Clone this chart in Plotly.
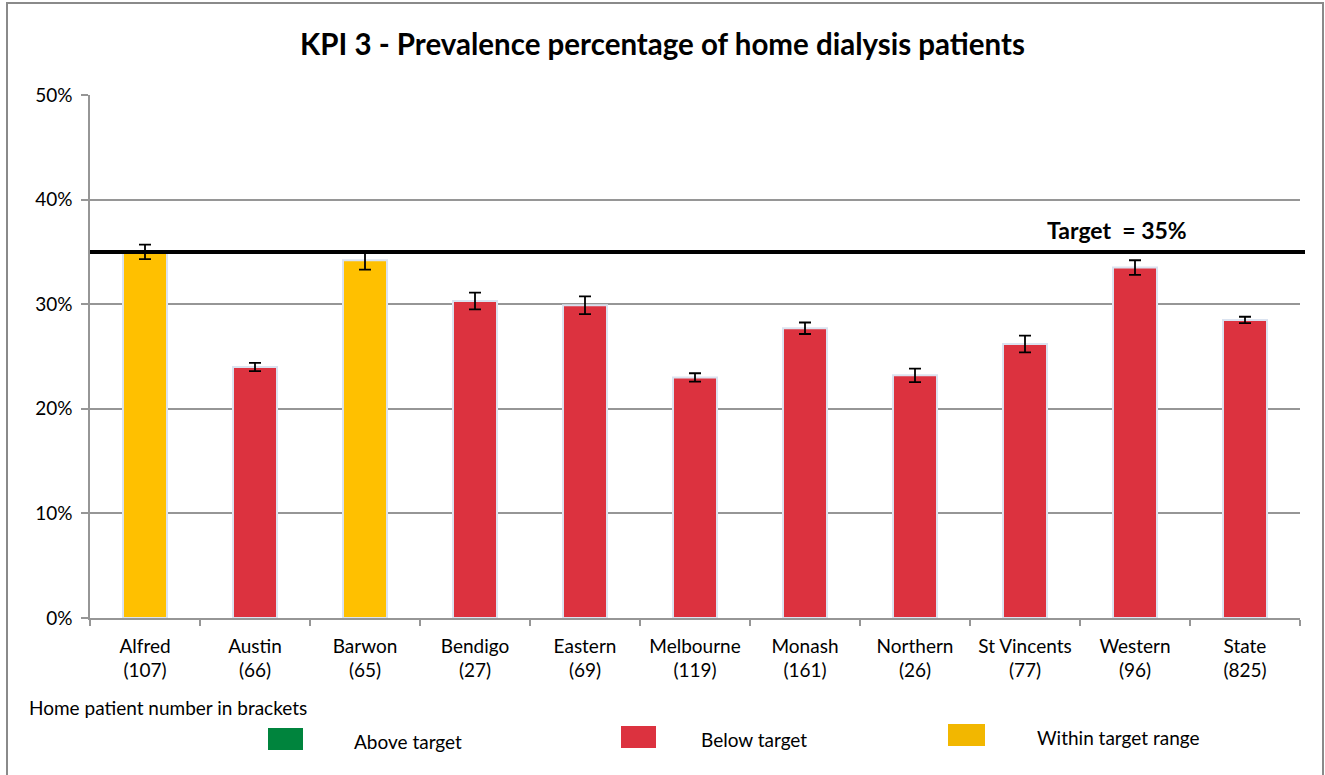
import plotly.graph_objects as go

categories = ["Alfred", "Austin", "Barwon", "Bendigo", "Eastern", "Melbourne",
              "Monash", "Northern", "St Vincents", "Western", "State"]
patients = [107, 66, 65, 27, 69, 119, 161, 26, 77, 96, 825]
prevalence = [35.0, 24.0, 34.2, 30.3, 29.9, 23.0, 27.7, 23.2, 26.2, 33.5, 28.5]
error = [0.7, 0.4, 0.9, 0.8, 0.85, 0.4, 0.55, 0.65, 0.8, 0.7, 0.3]
status = ["within", "below", "within", "below", "below", "below",
          "below", "below", "below", "below", "below"]
target = 35
y_ticks = [0, 10, 20, 30, 40, 50]
y_tick_text = ["0%", "10%", "20%", "30%", "40%", "50%"]

COLORS = {"above": "#00843D", "below": "#DC323F", "within": "#FFC000"}
LEG_COLORS = {"above": "#00843D", "below": "#DC323F", "within": "#F2B700"}
FONT = "Lato"
FS = 19

W, H = 1325, 775
ML, MR, MT, MB = 90, 25, 95, 157
PW, PH = W - ML - MR, H - MT - MB


def px(x):
    return (x - ML) / PW


def py(y):
    return (H - MB - y) / PH


labels = [f"{c}<br>({n})" for c, n in zip(categories, patients)]

fig = go.Figure()
fig.add_trace(go.Bar(
    x=labels, y=prevalence,
    marker=dict(color=[COLORS[s] for s in status],
                line=dict(color="#dbe3f0", width=2)),
    width=0.4,
    error_y=dict(type="data", array=error, visible=True,
                 color="black", thickness=1.8, width=6),
    showlegend=False,
))

shapes = [
    dict(type="line", xref="paper", yref="y", x0=0, x1=px(1305), y0=target, y1=target,
         line=dict(color="black", width=4)),
    dict(type="rect", xref="paper", yref="paper", x0=px(7), x1=px(1323),
         y0=py(790), y1=py(3), line=dict(color="#8a8a8a", width=2), layer="below"),
]

annotations = [
    dict(text=f"<b>Target  = {target}%</b>", xref="paper", yref="paper",
         x=px(1117), y=py(230), xanchor="center", yanchor="middle", showarrow=False,
         font=dict(size=23, color="black", family=FONT)),
    dict(text="Home patient number in brackets", xref="paper", yref="paper",
         x=px(27), y=py(707), xanchor="left", yanchor="middle", showarrow=False,
         font=dict(size=FS, color="black", family=FONT)),
]

legend_items = [("above", "Above target", 268, 303, 728, 750, 352),
                ("below", "Below target", 621, 656, 726, 748, 699),
                ("within", "Within target range", 948, 985, 724, 746, 1035)]
for key, name, x0, x1, y0, y1, tx in legend_items:
    shapes.append(dict(type="rect", xref="paper", yref="paper",
                       x0=px(x0), x1=px(x1), y0=py(y1), y1=py(y0),
                       fillcolor=LEG_COLORS[key], line=dict(width=0)))
    annotations.append(dict(text=name, xref="paper", yref="paper",
                            x=px(tx), y=py((y0 + y1) / 2 + 2), xanchor="left",
                            yanchor="middle", showarrow=False,
                            font=dict(size=FS, color="black", family=FONT)))

fig.update_layout(
    width=W, height=H,
    margin=dict(l=ML, r=MR, t=MT, b=MB),
    paper_bgcolor="white", plot_bgcolor="white",
    font=dict(family=FONT, size=FS, color="black"),
    title=dict(text="<b>KPI 3 - Prevalence percentage of home dialysis patients</b>",
               x=0.5, xanchor="center", y=1 - 45 / H, yanchor="middle",
               font=dict(size=29.5, family=FONT, color="black")),
    shapes=shapes, annotations=annotations,
    bargap=0.6,
)
fig.update_yaxes(range=[0, 50], tickvals=y_ticks, ticktext=y_tick_text,
                 showgrid=True, gridcolor="#969696", gridwidth=1.5,
                 showline=True, linecolor="#969696", linewidth=1.5,
                 ticks="outside", ticklen=7, tickcolor="#969696", tickwidth=1.5,
                 ticklabelstandoff=5,
                 zeroline=False, tickfont=dict(size=FS, family=FONT))
fig.update_xaxes(showline=True, linecolor="#969696", linewidth=1.5,
                 ticks="outside", tickson="boundaries", ticklen=6,
                 tickcolor="#969696", tickwidth=1.5, ticklabelstandoff=10,
                 tickfont=dict(size=FS, family=FONT), tickangle=0)

fig.write_html("out.html", config={"displayModeBar": False},
               post_script="document.body.style.margin='0px';document.body.style.overflow='hidden';")
